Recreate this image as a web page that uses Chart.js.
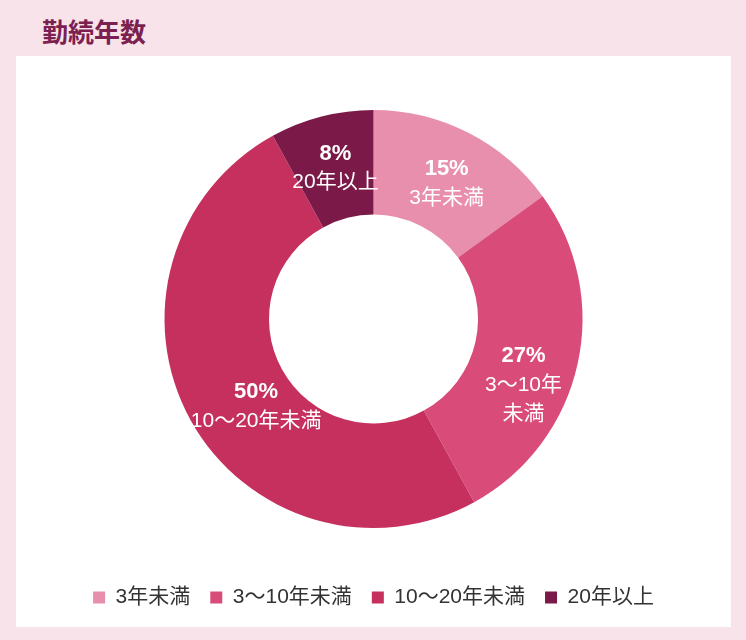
<!DOCTYPE html>
<html lang="ja">
<head>
<meta charset="utf-8">
<script src="https://cdn.jsdelivr.net/npm/chart.js@4/dist/chart.umd.min.js"></script>
<style>
  html, body { margin: 0; padding: 0; }
  body { width: 746px; height: 640px; background: #f8e3ea; position: relative; overflow: hidden;
         font-family: 'Liberation Sans', 'Noto Sans CJK JP', sans-serif; }
  #title { position: absolute; left: 42px; top: 14px; font-size: 26px; font-weight: bold; color: #7c1f51;
           font-family: 'Noto Sans CJK JP', sans-serif; line-height: 34px; }
  #card { position: absolute; left: 16px; top: 56px; width: 715px; height: 571px; background: #fff; }
  #c { position: absolute; left: 0; top: 0; }
</style>
</head>
<body>
<div id="title">勤続年数</div>
<div id="card"><canvas id="c" width="715" height="571"></canvas></div>
<script>
const categories = ['3年未満', '3〜10年未満', '10〜20年未満', '20年以上'];
const values = [15, 27, 50, 8];
const sliceLabelLines = [['3年未満'], ['3〜10年', '未満'], ['10〜20年未満'], ['20年以上']];
const colors = ['#e88fae', '#d94c7a', '#c6305f', '#7b1a48'];

const FONT = "'Liberation Sans', 'Noto Sans CJK JP', sans-serif";

const sliceLabels = {
  id: 'sliceLabels',
  afterDatasetsDraw(chart, args, opts) {
    const ctx = chart.ctx;
    const meta = chart.getDatasetMeta(0);
    const offsets = opts.offsets || [];
    ctx.save();
    ctx.fillStyle = '#fff';
    ctx.textAlign = 'center';
    ctx.textBaseline = 'middle';
    meta.data.forEach((arc, i) => {
      const p = arc.tooltipPosition();
      const off = offsets[i] || [0, 0];
      const lines = [values[i] + '%'].concat(sliceLabelLines[i]);
      const lh = opts.lineHeight;
      const cx = p.x + off[0];
      let y = p.y + off[1] - lh * (lines.length - 1) / 2;
      lines.forEach((t, j) => {
        ctx.font = (j === 0 ? 'bold 22px ' : '21px ') + FONT;
        ctx.fillText(t, cx, y);
        y += lh;
      });
    });
    ctx.restore();
  }
};

new Chart(document.getElementById('c'), {
  type: 'doughnut',
  data: {
    labels: categories,
    datasets: [{
      data: values,
      backgroundColor: colors,
      borderWidth: 0,
      radius: 209,
      cutout: '50%'
    }]
  },
  options: {
    responsive: false,
    animation: false,
    devicePixelRatio: 1,
    layout: { padding: { top: 15, bottom: 9, left: 0, right: 0 } },
    plugins: {
      tooltip: { enabled: false },
      legend: {
        position: 'bottom',
        labels: {
          boxWidth: 12,
          boxHeight: 12,
          padding: 20,
          color: '#333',
          font: { size: 21, family: FONT }
        }
      },
      sliceLabels: {
        lineHeight: 29,
        offsets: [[2, 4], [-3, 32], [20, 12], [1, 1]]
      }
    }
  },
  plugins: [sliceLabels]
});
</script>
</body>
</html>
